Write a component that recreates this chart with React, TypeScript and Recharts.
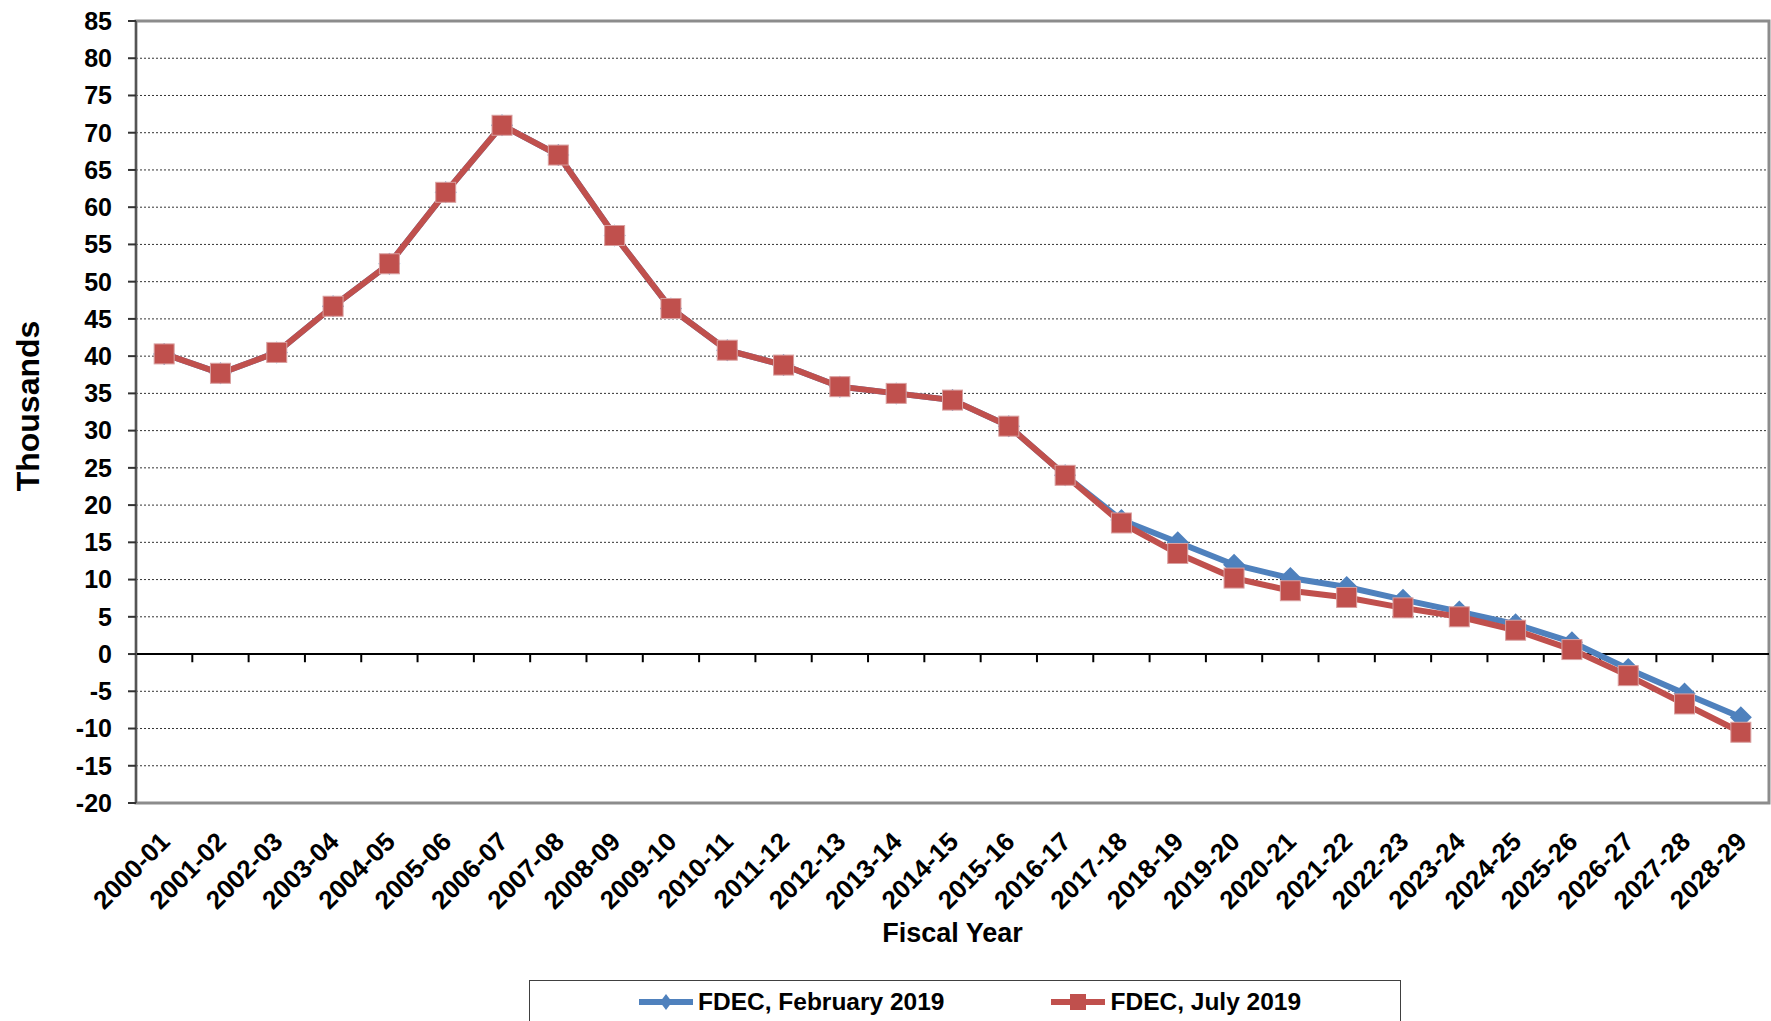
import React from 'react';
import {
  LineChart,
  Line,
  XAxis,
  YAxis,
  CartesianGrid,
  ReferenceLine,
  ReferenceArea,
  Legend,
  Label,
} from 'recharts';

const years = [
  '2000-01', '2001-02', '2002-03', '2003-04', '2004-05', '2005-06', '2006-07', '2007-08',
  '2008-09', '2009-10', '2010-11', '2011-12', '2012-13', '2013-14', '2014-15', '2015-16',
  '2016-17', '2017-18', '2018-19', '2019-20', '2020-21', '2021-22', '2022-23', '2023-24',
  '2024-25', '2025-26', '2026-27', '2027-28', '2028-29',
];

// FDEC, February 2019
const febValues = [
  40.3, 37.7, 40.5, 46.7, 52.4, 62.0, 71.0, 67.0, 56.2, 46.4, 40.8, 38.8, 35.9, 35.0, 34.1,
  30.6, 24.0, 18.0, 15.0, 12.0, 10.2, 9.0, 7.3, 5.7, 4.0, 1.6, -2.0, -5.3, -8.5,
];

// FDEC, July 2019
const julValues = [
  40.3, 37.7, 40.5, 46.7, 52.4, 62.0, 71.0, 67.0, 56.2, 46.4, 40.8, 38.8, 35.9, 35.0, 34.1,
  30.6, 24.0, 17.6, 13.5, 10.2, 8.5, 7.6, 6.2, 5.0, 3.2, 0.6, -2.9, -6.7, -10.5,
];

const yTicks = [-20, -15, -10, -5, 0, 5, 10, 15, 20, 25, 30, 35, 40, 45, 50, 55, 60, 65, 70, 75, 80, 85];

const BLUE = '#4F81BD';
const RED = '#C0504D';
const FONT = '"Liberation Sans", Arial, sans-serif';

const data = years.map((name, i) => ({ idx: i, name, feb: febValues[i], jul: julValues[i] }));
const xTicks = years.map((_, i) => i);
const boundaries = years.slice(1).map((_, i) => i + 0.5);

const XTick = ({ x, y, payload }: any) => {
  const label = years[payload.value];
  const ax = x + 1;
  const ay = y + 26;
  return (
    <text
      x={ax}
      y={ay}
      transform={`rotate(-45 ${ax} ${ay})`}
      textAnchor="end"
      dominantBaseline="central"
      fontFamily={FONT}
      fontWeight="bold"
      fontSize={26}
      fill="#000"
    >
      {label}
    </text>
  );
};

const Diamond = ({ cx, cy, index }: any) => {
  if (cx == null || cy == null) return null;
  const r = 11;
  return (
    <path
      key={`d-${index}`}
      d={`M${cx},${cy - r}L${cx + r},${cy}L${cx},${cy + r}L${cx - r},${cy}Z`}
      fill={BLUE}
    />
  );
};

const Square = ({ cx, cy, index }: any) => {
  if (cx == null || cy == null) return null;
  const h = 10;
  return (
    <rect key={`s-${index}`} x={cx - h} y={cy - h} width={h * 2} height={h * 2} fill={RED} stroke="#d9a0a0" strokeWidth={1} />
  );
};

const LegendBox = ({ payload }: any) => (
  <div
    style={{
      boxSizing: 'border-box',
      width: 872,
      height: 60,
      border: '1px solid #404040',
      display: 'flex',
      alignItems: 'flex-start',
      paddingLeft: 108,
      paddingTop: 6,
      fontFamily: FONT,
      fontWeight: 'bold',
      fontSize: 24.5,
      color: '#000',
      whiteSpace: 'nowrap',
    }}
  >
    {(payload || []).map((p: any, i: number) => (
      <div
        key={`lg-${i}`}
        style={{ display: 'flex', alignItems: 'center', marginRight: 106, height: 30, flexShrink: 0, whiteSpace: 'nowrap' }}
      >
        <svg width={56} height={24} style={{ marginRight: 4, flexShrink: 0 }}>
          <line x1={1} y1={12} x2={55} y2={12} stroke={p.color} strokeWidth={6} />
          {i === 0 ? (
            <path d="M28,4L34,12L28,20L22,12Z" fill={p.color} />
          ) : (
            <rect x={20} y={4} width={16} height={16} fill={p.color} />
          )}
        </svg>
        <span style={{ whiteSpace: 'nowrap' }}>{p.value}</span>
      </div>
    ))}
  </div>
);

export default function App() {
  return (
    <div style={{ position: 'absolute', left: 0, top: 0, width: 1771, height: 1021, overflow: 'hidden', background: '#fff' }}>
      <LineChart width={1771} height={1021} data={data} margin={{ top: 21, right: 2, left: 0, bottom: 0 }}>
        <CartesianGrid horizontal vertical={false} stroke="#333" strokeDasharray="2 2" />
        <ReferenceArea x1={-0.5} x2={28.5} y1={-20} y2={85} fill="none" stroke="#8c8c8c" strokeWidth={3} />
        <XAxis
          dataKey="idx"
          type="number"
          domain={[-0.5, 28.5]}
          ticks={xTicks}
          interval={0}
          axisLine={false}
          tickLine={false}
          tick={<XTick />}
          height={218}
        >
          <Label
            content={({ viewBox }: any) => (
              <text
                x={viewBox.x + viewBox.width / 2}
                y={viewBox.y + 130}
                textAnchor="middle"
                dominantBaseline="central"
                fontFamily={FONT}
                fontWeight="bold"
                fontSize={27}
                fill="#000"
              >
                Fiscal Year
              </text>
            )}
          />
        </XAxis>
        <YAxis
          domain={[-20, 85]}
          ticks={yTicks}
          interval={0}
          width={136}
          axisLine={{ stroke: '#555', strokeWidth: 2 }}
          tickLine={{ stroke: '#333', strokeWidth: 2 }}
          tickSize={8}
          tickMargin={16}
          tick={{ fontFamily: FONT, fontWeight: 'bold', fontSize: 25, fill: '#000' }}
        >
          <Label
            content={({ viewBox }: any) => {
              const cx = 28;
              const cy = viewBox.y + viewBox.height / 2 - 6;
              return (
                <text
                  x={cx}
                  y={cy}
                  transform={`rotate(-90 ${cx} ${cy})`}
                  textAnchor="middle"
                  dominantBaseline="central"
                  fontFamily={FONT}
                  fontWeight="bold"
                  fontSize={32}
                  fill="#000"
                >
                  Thousands
                </text>
              );
            }}
          />
        </YAxis>
        <ReferenceLine y={0} stroke="#000" strokeWidth={2} />
        {boundaries.map((b) => (
          <ReferenceLine
            key={`tk-${b}`}
            segment={[{ x: b, y: 0 }, { x: b, y: -1.1 }]}
            stroke="#000"
            strokeWidth={2}
          />
        ))}
        <Legend
          verticalAlign="middle"
          align="center"
          layout="horizontal"
          content={<LegendBox />}
          wrapperStyle={{ position: 'absolute', top: 980, left: 529, width: 872, height: 60 }}
        />
        <Line
          type="linear"
          dataKey="feb"
          name="FDEC, February 2019"
          stroke={BLUE}
          strokeWidth={6}
          dot={<Diamond />}
          activeDot={false}
          isAnimationActive={false}
        />
        <Line
          type="linear"
          dataKey="jul"
          name="FDEC, July 2019"
          stroke={RED}
          strokeWidth={6}
          dot={<Square />}
          activeDot={false}
          isAnimationActive={false}
        />
      </LineChart>
    </div>
  );
}
